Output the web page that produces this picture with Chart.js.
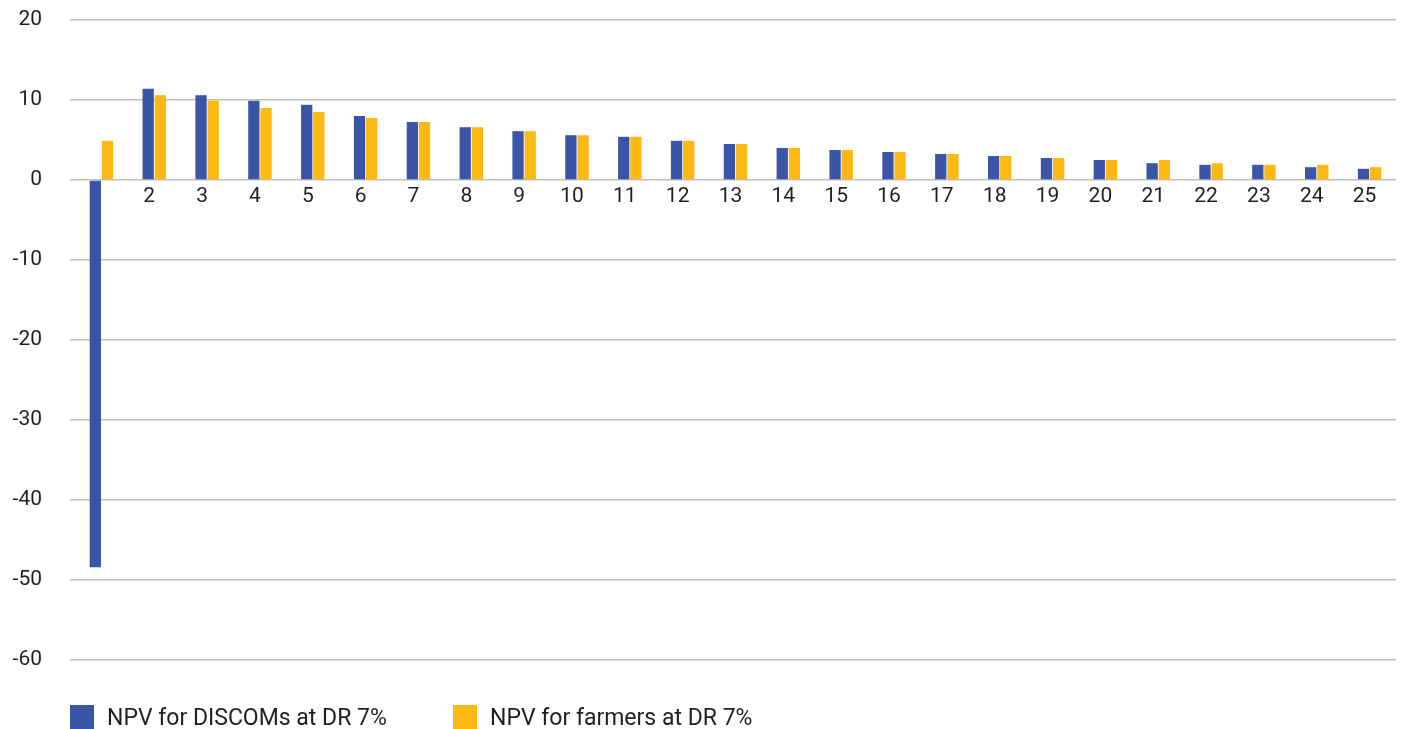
<!DOCTYPE html>
<html>
<head>
<meta charset="utf-8">
<script src="https://cdn.jsdelivr.net/npm/chart.js@4.4.0/dist/chart.umd.min.js"></script>
<style>
  html, body { margin: 0; padding: 0; background: #ffffff; }
  #wrap { position: relative; width: 1404px; height: 729px; overflow: hidden; }
  #c { position: absolute; left: 0; top: 0; }
  .lg { position: absolute; top: 705px; height: 24px; display: flex; align-items: center;
        font-family: Roboto, "Open Sans", sans-serif; font-size: 23px; color: #231f20; white-space: nowrap; }
  .lg span.box { display: inline-block; width: 24px; height: 24px; margin-right: 13px; }
</style>
</head>
<body>
<div id="wrap">
  <canvas id="c" width="1404" height="729"></canvas>
  <div id="legend"></div>
</div>
<script>
// ---- data ----
const categories = ["1","2","3","4","5","6","7","8","9","10","11","12","13","14","15","16","17","18","19","20","21","22","23","24","25"];
const discomLabel = "NPV for DISCOMs at DR 7%";
const farmerLabel = "NPV for farmers at DR 7%";
const npvDiscoms = [-48.4, 11.4, 10.6, 9.9, 9.4, 8.0, 7.25, 6.6, 6.1, 5.6, 5.4, 4.9, 4.5, 4.0, 3.75, 3.5, 3.25, 3.0, 2.75, 2.5, 2.1, 1.9, 1.9, 1.6, 1.4];
const npvFarmers = [4.9, 10.6, 9.9, 9.0, 8.5, 7.75, 7.25, 6.6, 6.1, 5.6, 5.4, 4.9, 4.5, 4.0, 3.75, 3.5, 3.25, 3.0, 2.75, 2.5, 2.5, 2.1, 1.9, 1.9, 1.6];
const yTicks = [20, 10, 0, -10, -20, -30, -40, -50, -60];

const blue = "#3a55a5";
const yellow = "#fdb913";
const gridColor = "#bfbfb9";
const textColor = "#231f20";
const fontFamily = "Roboto, 'Open Sans', sans-serif";

const chart = new Chart(document.getElementById("c"), {
  type: "bar",
  data: {
    labels: categories,
    datasets: [
      { label: discomLabel, data: npvDiscoms, backgroundColor: blue, categoryPercentage: 0.46, barPercentage: 0.93 },
      { label: farmerLabel, data: npvFarmers, backgroundColor: yellow, categoryPercentage: 0.46, barPercentage: 0.93 }
    ]
  },
  options: {
    responsive: false,
    animation: false,
    layout: { padding: { left: 0, right: 8, top: 20, bottom: 69 } },
    plugins: { legend: { display: false }, tooltip: { enabled: false } },
    scales: {
      x: {
        type: "category",
        position: { y: 0 },
        afterFit: (s) => { s.height = 0; },
        grid: { display: false, drawTicks: false },
        border: { display: false },
        ticks: {
          color: textColor,
          font: { family: fontFamily, size: 21 },
          padding: 4,
          labelOffset: -5,
          autoSkip: false,
          maxRotation: 0
        }
      },
      y: {
        min: Math.min(...yTicks),
        max: Math.max(...yTicks),
        afterFit: (s) => { s.width = 75; s.paddingTop = 0; s.paddingBottom = 0; },
        afterBuildTicks: (s) => { s.ticks = yTicks.slice().reverse().map(v => ({ value: v })); },
        grid: { color: gridColor, lineWidth: 1.5, tickLength: 5, drawTicks: true, tickColor: gridColor },
        border: { display: false },
        ticks: {
          color: textColor,
          font: { family: fontFamily, size: 21 },
          padding: 28
        }
      }
    }
  }
});

// HTML legend built from dataset labels/colours
const legend = document.getElementById("legend");
const lefts = [70, 453];
chart.data.datasets.forEach((ds, i) => {
  const d = document.createElement("div");
  d.className = "lg";
  d.style.left = lefts[i] + "px";
  const b = document.createElement("span");
  b.className = "box";
  b.style.background = ds.backgroundColor;
  d.appendChild(b);
  d.appendChild(document.createTextNode(ds.label));
  legend.appendChild(d);
});
</script>
</body>
</html>
